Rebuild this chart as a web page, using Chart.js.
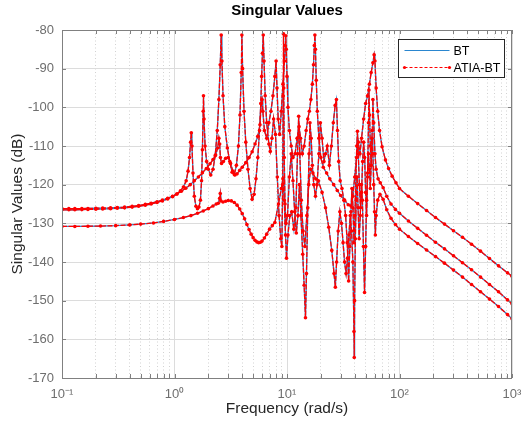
<!DOCTYPE html>
<html><head><meta charset="utf-8">
<script src="https://cdn.jsdelivr.net/npm/chart.js@4.4.1/dist/chart.umd.min.js"></script>
<style>html,body{margin:0;padding:0;background:#fff;}#wrap{width:531px;height:427px;}</style>
</head><body><div id="wrap"><canvas id="c" width="531" height="427"></canvas></div>
<script>
// ---- data (frequency in rad/s, singular values in dB) ----
const freqA = [0.1,0.115,0.13,0.15,0.17,0.2,0.23,0.27,0.31,0.36,0.42,0.48,0.55,0.62,0.7,0.78,0.87,0.96,1.05,1.15,
  1.26,1.38,1.5,1.63,1.77,1.92,2.07,2.2,2.32,2.42,2.48,2.52,2.56,2.62,2.72,2.85,3.0,3.15,3.3,3.45,
  3.6,3.8,4.0,4.3,4.6,4.9,5.2,5.5,5.75,5.9,6.0,6.1,6.3,6.6,6.9,7.2,7.5,7.8,8.0,8.15,
  8.35,8.6,8.9,9.2,9.5,9.65,9.75,9.85,10.0,10.2,10.5,10.9,11.3,11.8,12.3,12.8,13.2,13.7,14.2,14.8,
  15.3,15.8,16.3,16.8,17.2,17.5,17.7,17.9,18.2,18.6,19.2,20,21,22.5,24,26,28,30,32.5,35,
  37,38.5,40,41.5,43,44.5,46,48,50,52,54,56,58,59.5,60.5,62,64,66.5,70,75,
  80,86,93,100,120,145,174,209,251,302,363,437,525,631,759,912,1000];
const svA = [-126.2,-126.2,-126.2,-126.2,-126.15,-126.1,-126.05,-126.0,-125.9,-125.8,-125.6,-125.4,-125.1,-124.8,-124.4,-124.0,-123.5,-123.0,-122.4,-121.7,
  -120.9,-120.0,-119.0,-118.0,-116.9,-115.8,-114.6,-113.5,-112.3,-110.5,-108.0,-109.5,-113.0,-114.5,-114.0,-113.2,-113.0,-114.5,-116.5,-117.5,
  -117.2,-116.3,-115.5,-114.3,-113.0,-111.5,-109.5,-107.5,-104.5,-99,-98,-101,-106,-108,-104,-101,-97,-92,-88,-95,
  -103,-107,-101,-94,-88,-84,-81.5,-85,-92,-100,-106,-110,-113,-112,-108,-105,-108,-112,-110,-106,
  -103,-101,-98,-94,-89,-84,-81.3,-85,-93,-101,-108,-113,-115.5,-117,-118.5,-120,-121.5,-122.8,-124,-125.2,
  -125.5,-123,-118,-113,-109,-112,-108,-103,-99,-97,-94,-91,-88.5,-86.4,-88,-95,-101,-106,-110.2,-113.6,
  -115.8,-117.8,-119.5,-121.0,-123.0,-124.9,-126.7,-128.5,-130.2,-131.9,-133.6,-135.4,-137.2,-139.1,-141.0,-142.8,-143.7];

const freqB = [0.1,0.115,0.13,0.15,0.17,0.2,0.23,0.27,0.31,0.36,0.42,0.48,0.55,0.62,0.7,0.78,0.87,0.96,1.05,1.13,
  1.2,1.27,1.32,1.36,1.39,1.41,1.43,1.46,1.5,1.55,1.6,1.65,1.7,1.74,1.77,1.8,1.81,1.83,1.87,1.93,
  2.0,2.1,2.2,2.3,2.4,2.48,2.55,2.6,2.64,2.7,2.8,2.95,3.1,3.25,3.4,3.55,3.7,3.82,3.92,3.97,
  4.03,4.15,4.3,4.5,4.7,4.9,5.1,5.3,5.5,5.7,5.85,5.95,6.05,6.15,6.25,6.4,6.6,6.9,7.1,7.35,
  7.6,7.9,8.2,8.5,8.8,9.0,9.15,9.25,9.3,9.36,9.45,9.6,9.8,10.1,10.5,10.9,11.3,11.7,12.1,12.5,
  12.9,13.3,13.8,14.2,14.6,14.9,15.3,15.7,16.0,16.4,16.8,17.3,17.9,18.5,19.2,19.8,20.5,21.3,22,22.8,
  23.8,24.8,25.8,26.8,27.5,28.1,28.8,29.7,30.8,32,33.2,34.3,35.3,36.2,37,37.8,38.6,39.4,40.2,41,
  41.7,42.3,43,44,45,46,47,48,49,50,51,52,53,53.5,54.2,55,56,57.2,58,59,
  60.5,62,64.5,67.5,71.6,77,84,92,100,120,145,174,209,251,302,363,437,525,631,759,
  912,1000];
const svB = [-126.5,-126.5,-126.5,-126.45,-126.4,-126.35,-126.3,-126.2,-126.1,-126.0,-125.8,-125.6,-125.3,-125.0,-124.6,-124.2,-123.7,-123.1,-122.4,-121.6,
  -120.6,-119,-116.5,-113,-109,-106.6,-110,-117,-123,-125.6,-126.2,-125.8,-124,-119,-111,-101,-97,-103,-110,-114,
  -116,-117.5,-116,-112.5,-106,-98,-89,-81.3,-88,-97,-105,-110.5,-114,-116.8,-117.4,-115,-110,-102,-91,-81.3,
  -90,-101,-109,-116,-121,-123.8,-122.5,-118.5,-113,-106,-99,-92,-86,-81.3,-88,-97,-104,-109.5,-111.4,-108,
  -103,-107,-118,-128,-134,-136,-120,-97,-81,-95,-113,-125,-130,-128,-118,-112,-119,-127,-132.5,-128,
  -120,-128,-138,-146,-154.4,-143,-126,-112,-104,-108,-115,-120,-123,-120,-112,-104,-108,-114,-112,-110,
  -115,-110,-104,-99.5,-98,-106,-114,-119,-121,-124,-128,-135,-144.9,-136,-127,-121,-126,-135,-128,-118,
  -110,-106.2,-112,-120,-126,-122,-114,-109,-113,-122,-128,-118,-104,-95.5,-102,-110,-115,-106,-98,-104,
  -112,-116,-118.5,-119.5,-120.8,-123,-125,-126.4,-127.4,-129.4,-131.3,-133.1,-134.9,-136.6,-138.4,-140.2,-142.0,-143.9,-145.8,-147.7,
  -149.8,-150.8];

const freqC = [0.1,0.13,0.17,0.22,0.3,0.4,0.5,0.65,0.8,1.0,1.2,1.4,1.6,1.8,2.0,2.2,2.35,2.45,2.52,2.55,
  2.58,2.7,2.85,3.0,3.2,3.4,3.6,3.8,4.0,4.2,4.4,4.6,4.8,5.0,5.2,5.4,5.6,5.8,6.0,6.3,
  6.6,7.0,7.4,7.8,8.4,8.9,9.2,9.45,9.7,9.9,10.2,10.6,11.0,11.5,12.0,12.4,12.7,13.0,13.4,13.9,
  14.4,15.0,15.6,16.2,17,18,19,20.5,22,23.5,25,26.2,26.9,27.6,28.5,29.5,30.5,31.5,32.5,33.5,
  34.5,35.5,36.5,37.5,38.5,39.4,39.6,39.9,40.5,41.2,42,42.8,43.8,44.8,45.8,46.8,47.8,48.9,50,51,
  52,53,54,55,56,57,58,59,60,61,62,64,67,71.6,77,84,92,100,120,145,
  174,209,251,302,363,437,525,631,759,912,1000];
const svC = [-130.8,-130.8,-130.75,-130.7,-130.6,-130.4,-130.2,-129.9,-129.5,-129.0,-128.5,-128.0,-127.4,-126.8,-126.2,-125.5,-125.0,-124.8,-123.5,-122.3,
  -124.2,-124.5,-124.3,-124.1,-124.2,-124.6,-125.3,-126.3,-127.5,-128.8,-130.3,-131.6,-132.8,-133.7,-134.4,-134.8,-135.0,-134.9,-134.6,-133.8,
  -132.8,-131.5,-130.6,-129.8,-125,-121,-118.5,-124,-133,-139,-133,-128,-127,-131.5,-126,-112,-102.3,-112,-124,-132,
  -136,-128,-120,-116,-117,-118.5,-119,-122,-126,-131,-137,-143,-146.5,-140,-132,-127,-130,-135,-140,-143,
  -139,-133,-128,-132,-140,-158,-164.7,-150,-134,-124,-118,-126,-134,-128,-120,-124,-136,-147.9,-136,-124,
  -117,-112,-116,-121,-115,-108,-112,-120,-127,-133,-128,-124,-122.5,-123.8,-126.5,-128.7,-130.3,-131.5,-133.4,-135.2,
  -136.9,-138.6,-140.3,-142.1,-143.9,-145.8,-147.7,-149.6,-151.5,-153.6,-154.7];

const xMajorTicks = [0.1, 1, 10, 100, 1000];
const xTickLabels = ['10\u207B\u00B9', '10\u2070', '10\u00B9', '10\u00B2', '10\u00B3'];
const xMinorTicks = [0.2,0.3,0.4,0.5,0.6,0.7,0.8,0.9,2,3,4,5,6,7,8,9,20,30,40,50,60,70,80,90,200,300,400,500,600,700,800,900];
const yTicks = [-170,-160,-150,-140,-130,-120,-110,-100,-90,-80];
const legendLabels = ['BT', 'ATIA-BT'];
const titleText = 'Singular Values';
const xTitle = 'Frequency (rad/s)';
const yTitle = 'Singular Values (dB)';

// ---- build ----
const BLUE = '#2a86cf', RED = '#FF0000';
const AXC = '#808080', TICKC = '#6e6e6e', LABC = '#262626';
const FONT = '"Liberation Sans", Arial, Helvetica, sans-serif';
function pts(f, v) {
  if (f.length !== v.length) throw new Error('length mismatch ' + f.length + ' vs ' + v.length);
  return f.map((x, i) => ({x: x, y: v[i]}));
}
const curves = [[freqA, svA], [freqB, svB], [freqC, svC]];
const datasets = [];
curves.forEach(([f, v]) => {
  datasets.push({label: legendLabels[1], data: pts(f, v), xAxisID: 'x', yAxisID: 'y', order: 0,
    borderColor: RED, borderWidth: 1.3, borderDash: [5, 1.5], pointRadius: 1.8, pointBackgroundColor: RED,
    pointBorderWidth: 0, pointHoverRadius: 0, tension: 0, fill: false});
  datasets.push({label: legendLabels[0], data: pts(f, v), xAxisID: 'x', yAxisID: 'y', order: 1,
    borderColor: BLUE, borderWidth: 1.3, pointRadius: 0, tension: 0, fill: false});
});

const framePlugin = {
  id: 'frame',
  afterDraw(chart) {
    const {ctx, chartArea: a, scales} = chart;
    const xs = scales.x, ys = scales.y;
    ctx.save();
    // title centred over the plot area
    ctx.fillStyle = '#000'; ctx.font = 'bold 15px ' + FONT; ctx.textAlign = 'center'; ctx.textBaseline = 'middle';
    ctx.fillText(titleText, (a.left + a.right) / 2, 11);
    ctx.strokeStyle = AXC; ctx.lineWidth = 1;
    ctx.strokeRect(Math.round(a.left) + 0.5, Math.round(a.top) + 0.5, Math.round(a.right - a.left) - 1, Math.round(a.bottom - a.top));
    ctx.beginPath();
    xMajorTicks.concat(xMinorTicks).forEach(v => {
      const px = Math.round(xs.getPixelForValue(v)) + 0.5;
      ctx.moveTo(px, a.bottom); ctx.lineTo(px, a.bottom - 4);
      ctx.moveTo(px, a.top); ctx.lineTo(px, a.top + 4);
    });
    yTicks.forEach(v => {
      const py = Math.round(ys.getPixelForValue(v)) + 0.5;
      ctx.moveTo(a.left, py); ctx.lineTo(a.left + 4, py);
      ctx.moveTo(a.right, py); ctx.lineTo(a.right - 4, py);
    });
    ctx.stroke();
    // legend
    const bx = 398.5, by = 39.5, bw = 106, bh = 38;
    ctx.fillStyle = '#fff'; ctx.fillRect(bx, by, bw, bh);
    ctx.strokeStyle = '#262626'; ctx.lineWidth = 1; ctx.strokeRect(bx, by, bw, bh);
    ctx.font = '12.5px ' + FONT; ctx.fillStyle = '#000'; ctx.textBaseline = 'middle'; ctx.textAlign = 'left';
    const y1 = by + 11, y2 = by + 28, x0 = bx + 6, x1 = bx + 51;
    ctx.strokeStyle = BLUE; ctx.lineWidth = 1.2; ctx.beginPath(); ctx.moveTo(x0, y1); ctx.lineTo(x1, y1); ctx.stroke();
    ctx.fillText(legendLabels[0], x1 + 4, y1 + 1);
    ctx.strokeStyle = RED; ctx.lineWidth = 1; ctx.setLineDash([3, 2]); ctx.beginPath(); ctx.moveTo(x0, y2); ctx.lineTo(x1, y2); ctx.stroke();
    ctx.setLineDash([]); ctx.fillStyle = RED;
    [x0, x1].forEach(px => { ctx.beginPath(); ctx.arc(px, y2, 1.6, 0, Math.PI * 2); ctx.fill(); });
    ctx.fillStyle = '#000'; ctx.fillText(legendLabels[1], x1 + 4, y2 + 1);
    ctx.restore();
  }
};

new Chart(document.getElementById('c'), {
  type: 'line',
  data: {datasets},
  plugins: [framePlugin],
  options: {
    responsive: false, animation: false, devicePixelRatio: 1,
    layout: {padding: {left: 0, right: 19, top: 30, bottom: 0}},
    plugins: {legend: {display: false}, tooltip: {enabled: false}, title: {display: false}},
    scales: {
      x: {
        type: 'logarithmic', axis: 'x', position: 'bottom', min: 0.1, max: 1000,
        afterBuildTicks: s => { s.ticks = xMajorTicks.map(v => ({value: v})); },
        afterFit: s => { s.height = 49; },
        ticks: {autoSkip: false, maxRotation: 0, color: TICKC, padding: 9, font: {family: FONT, size: 13},
          callback: (v) => { const i = xMajorTicks.indexOf(v); return i >= 0 ? xTickLabels[i] : ''; }},
        grid: {color: '#dcdcdc', lineWidth: 1, drawTicks: false},
        border: {display: false},
        title: {display: true, text: xTitle, color: LABC, font: {family: FONT, size: 15.5}, padding: {top: 0, bottom: 8.5}}
      },
      xm: {
        type: 'logarithmic', axis: 'x', position: 'bottom', min: 0.1, max: 1000,
        afterBuildTicks: s => { s.ticks = xMinorTicks.map(v => ({value: v})); },
        afterFit: s => { s.height = 0; },
        ticks: {display: false},
        grid: {color: '#d2d2d2', lineWidth: 1, drawTicks: false},
        border: {display: false, dash: [1, 2.5]}
      },
      y: {
        type: 'linear', position: 'left', min: -170, max: -80,
        afterBuildTicks: s => { s.ticks = yTicks.map(v => ({value: v})); },
        afterFit: s => { s.width = 62; },
        ticks: {color: TICKC, padding: 8, font: {family: FONT, size: 13}},
        grid: {color: '#dcdcdc', lineWidth: 1, drawTicks: false},
        border: {display: false},
        title: {display: true, text: yTitle, color: LABC, font: {family: FONT, size: 15.5}, padding: {top: 8.5, bottom: 0}}
      }
    }
  }
});
</script></body></html>
